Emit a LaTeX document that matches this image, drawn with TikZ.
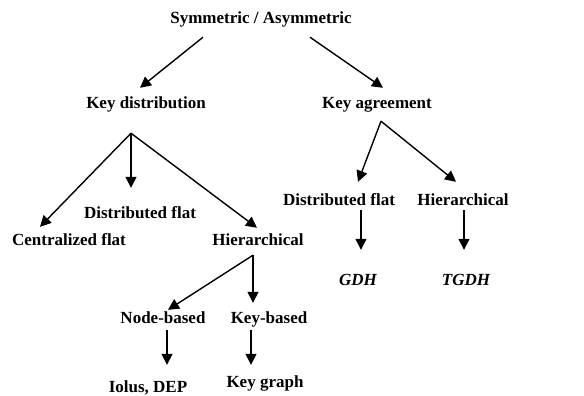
\documentclass[tikz,border=0pt]{standalone}
\usepackage{fontspec}
\setmainfont{Liberation Serif}
\usepackage{tikz}
\usetikzlibrary{arrows.meta, calc}

\begin{document}
\begin{tikzpicture}[
  x=1pt, y=-1pt,
  lbl/.style={anchor=base, inner sep=0pt, text height=11pt, text depth=3pt, font=\fontsize{17}{19}\selectfont\bfseries},
  arr/.style={-{Triangle[length=11pt, width=11pt]}, line width=1.4pt},
]
  \useasboundingbox (0,0) rectangle (584,396);

  % top level
  \node[lbl] (sym) at (261, 24) {Symmetric / Asymmetric};
  \node[lbl] (kd)  at (146,109) {Key distribution};
  \node[lbl] (ka)  at (377,109) {Key agreement};

  % key distribution side
  \node[lbl] (cflat) at (69,245)  {Centralized flat};
  \node[lbl] (dflat) at (140,218) {Distributed flat};
  \node[lbl] (hier)  at (258,245) {Hierarchical};
  \node[lbl] (nodeb) at (163,323) {Node-based};
  \node[lbl] (keyb)  at (269,323) {Key-based};
  \node[lbl] (iolus) at (148,392) {Iolus, DEP};
  \node[lbl] (kgraph) at (265,387) {Key graph};

  % key agreement side
  \node[lbl] (dflat2) at (339,205) {Distributed flat};
  \node[lbl] (hier2)  at (463,205) {Hierarchical};
  \node[lbl] (gdh)    at (358,285) {\itshape GDH};
  \node[lbl] (tgdh)   at (466,285) {\itshape TGDH};

  % split points
  \coordinate (kdsplit) at ($(kd.south)+(-15,21)$);
  \coordinate (kasplit) at ($(ka.south)+(4,9)$);
  \coordinate (hsplit)  at ($(hier.south)+(-5,7)$);

  \draw[arr] ($(sym.south)+(-58,10)$) -- ($(kd.north)+(-6,-10)$);
  \draw[arr] ($(sym.south)+(49,10)$) -- ($(ka.north)+(6,-10)$);

  \draw[arr] (kdsplit) -- ($(cflat.north)+(-29,-7)$);
  \draw[arr] (kdsplit) -- ($(dflat.north)+(-9,-19)$);
  \draw[arr] (kdsplit) -- ($(hier.north)+(-1,-6)$);

  \draw[arr] (kasplit) -- ($(dflat2.north)+(19,-12)$);
  \draw[arr] (kasplit) -- ($(hier2.north)+(-7,-12)$);
  \draw[arr] ($(dflat2.south)+(22,2)$) -- ($(gdh.north)+(3,-24)$);
  \draw[arr] ($(hier2.south)+(1,2)$) -- ($(tgdh.north)+(-2,-24)$);

  \draw[arr] (hsplit) -- ($(nodeb.north)+(5,-2)$);
  \draw[arr] (hsplit) -- ($(keyb.north)+(-16,-9)$);
  \draw[arr] ($(nodeb.south)+(4,4)$) -- ($(iolus.north)+(19,-16)$);
  \draw[arr] ($(keyb.south)+(-18,4)$) -- ($(kgraph.north)+(-14,-11)$);
\end{tikzpicture}
\end{document}
